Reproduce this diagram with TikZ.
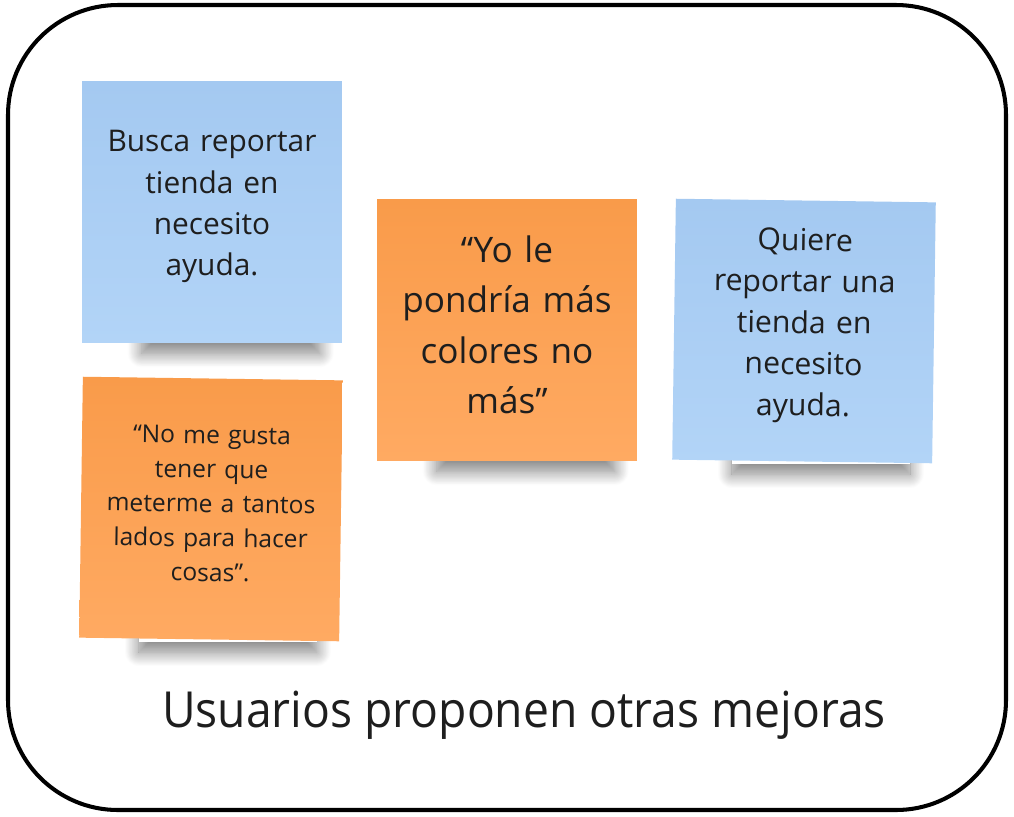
\documentclass[tikz,border=0pt]{standalone}
\usepackage{fontspec}
\setmainfont{Open Sans}
\newfontfamily\titlefont[FakeStretch=0.93]{Open Sans}
\usetikzlibrary{shadows.blur,backgrounds}
\definecolor{noteblue}{RGB}{164,201,241}
\definecolor{noteblueb}{RGB}{178,212,247}
\definecolor{noteorange}{RGB}{249,155,74}
\definecolor{noteorangeb}{RGB}{255,170,98}
\definecolor{inktext}{RGB}{30,30,30}

\begin{document}
\begin{tikzpicture}[x=0.02cm,y=-0.02cm,
  note/.style={minimum width=5.2cm,minimum height=5.22cm,text width=4.9cm,
    inner sep=0pt,align=center,text=inktext,
    execute at end node={\endgraf\vspace*{6pt}}},
  blue note/.style={note,top color=noteblue,bottom color=noteblueb},
  orange note/.style={note,top color=noteorange,bottom color=noteorangeb},
  curl/.style={blur shadow={shadow xshift=0pt,shadow yshift=-6pt,
    shadow blur radius=8pt,shadow blur steps=20,shadow opacity=50}}]
\useasboundingbox (0,0) rectangle (1014,816);
% Frame
\draw[line width=2.3pt,rounded corners=2.2cm] (8,5) rectangle (1006,810);
% Notes
\node[blue note,font=\fontsize{17}{23.5}\selectfont] (busca) at (212,212)
  {Busca reportar\\tienda en\\necesito\\ayuda.};
\node[orange note,rotate=-0.8,font=\fontsize{14}{19.6}\selectfont] (gusta) at (211,509)
  {“No me gusta\\tener que\\meterme a tantos\\lados para hacer\\cosas”.};
\node[orange note,font=\fontsize{20}{28.6}\selectfont] (colores) at (507,330)
  {“Yo le\\pondría más\\colores no\\más”};
\node[blue note,rotate=-0.8,font=\fontsize{17.2}{23.5}\selectfont] (quiere) at (804,331)
  {Quiere\\reportar una\\tienda en\\necesito\\ayuda.};
% Title
\node[text=inktext,font=\titlefont\fontsize{28.3}{34}\selectfont] (titulo) at (524,715)
  {Usuarios proponen otras mejoras};
% Shadows
\begin{scope}[on background layer]
\foreach \n in {busca,gusta,colores,quiere}
  \path[curl,fill=white] ([xshift=1.2cm,yshift=0.4cm]\n.south west)
    rectangle ([xshift=-0.45cm]\n.south east);
\end{scope}
\end{tikzpicture}
\end{document}
